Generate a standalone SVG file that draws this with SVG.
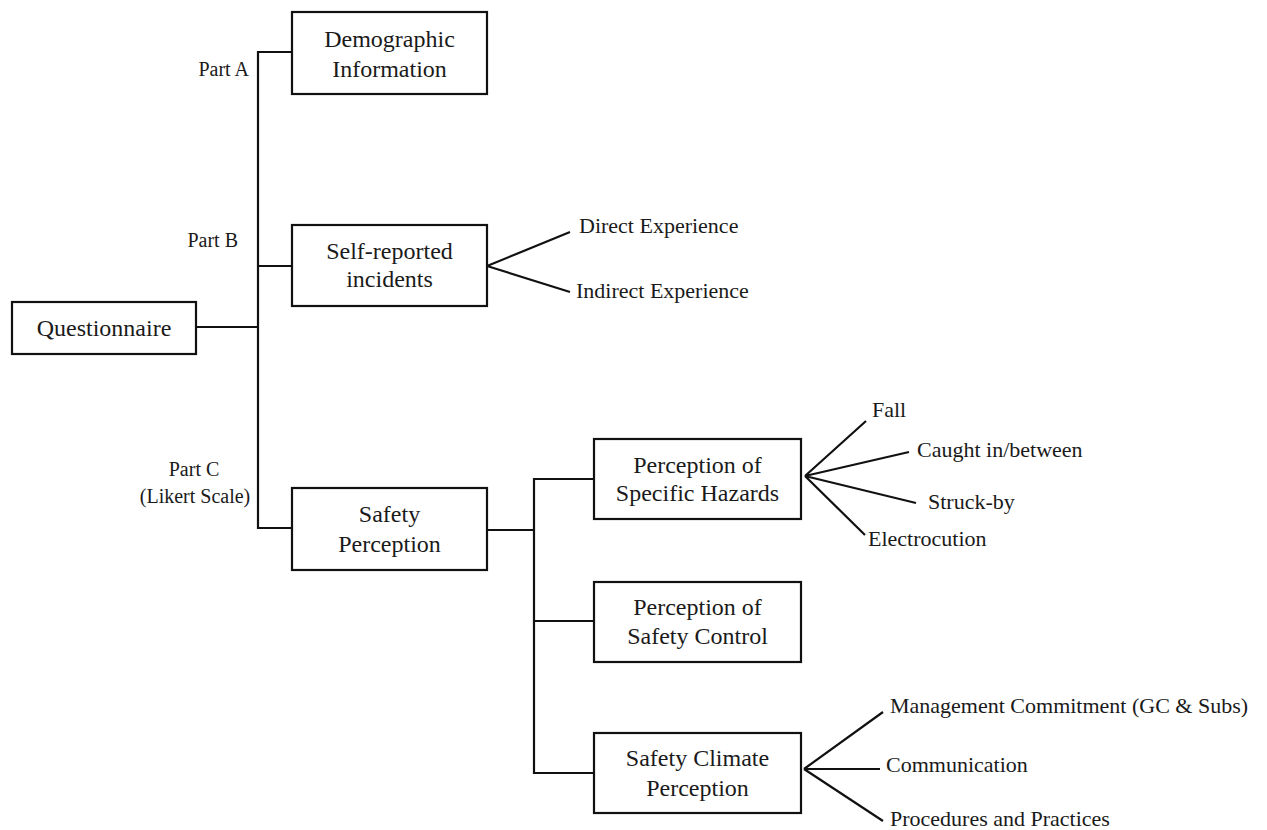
<svg xmlns="http://www.w3.org/2000/svg" width="1267" height="830" viewBox="0 0 1267 830">
<style>
.box{fill:#fff;stroke:#111;stroke-width:2.2}
.ln{fill:none;stroke:#111;stroke-width:2.2}
text{font-family:"Liberation Serif","Times New Roman",serif;fill:#1a1a1a}
.bt{font-size:24px;text-anchor:middle}
.lf{font-size:22px}
.pt{font-size:20px}
</style>
<rect width="1267" height="830" fill="#fff"/>
<g id="connectors">
<path class="ln" d="M292 52 H258 V528 H292"/>
<path class="ln" d="M258 266 H292"/>
<path class="ln" d="M196 327 H258"/>
<path class="ln" d="M487 266 L570 232 M487 266 L570 292"/>
<path class="ln" d="M487 530 H534"/>
<path class="ln" d="M594 479 H534 V773 H594"/>
<path class="ln" d="M534 621 H594"/>
<path class="ln" d="M805 476 L866 421 M805 476 L909 452 M805 476 L916 503 M805 476 L865 535"/>
<path class="ln" d="M804 769 L883 712 M804 769 L880 769 M804 769 L883 821"/>
</g>
<g id="part-labels">
<text class="pt" x="249" y="76" text-anchor="end">Part A</text>
<text class="pt" x="238" y="247" text-anchor="end">Part B</text>
<text class="pt" x="194" y="476" text-anchor="middle">Part C</text>
<text class="pt" x="195" y="503" text-anchor="middle">(Likert Scale)</text>
</g>
<g id="questionnaire">
<rect class="box" x="12" y="302" width="184" height="52"/>
<text class="bt" x="104" y="336">Questionnaire</text>
</g>
<g id="demographic">
<rect class="box" x="292" y="12" width="195" height="82"/>
<text class="bt" x="389.5" y="47">Demographic</text>
<text class="bt" x="389.5" y="77">Information</text>
</g>
<g id="self-reported">
<rect class="box" x="292" y="225" width="195" height="81"/>
<text class="bt" x="389.5" y="259">Self-reported</text>
<text class="bt" x="389.5" y="287">incidents</text>
</g>
<g id="safety-perception">
<rect class="box" x="292" y="488" width="195" height="82"/>
<text class="bt" x="389.5" y="522">Safety</text>
<text class="bt" x="389.5" y="552">Perception</text>
</g>
<g id="specific-hazards">
<rect class="box" x="594" y="439" width="207" height="80"/>
<text class="bt" x="697.5" y="473">Perception of</text>
<text class="bt" x="697.5" y="501">Specific Hazards</text>
</g>
<g id="safety-control">
<rect class="box" x="594" y="582" width="207" height="80"/>
<text class="bt" x="697.5" y="615">Perception of</text>
<text class="bt" x="697.5" y="644">Safety Control</text>
</g>
<g id="safety-climate">
<rect class="box" x="594" y="733" width="207" height="80"/>
<text class="bt" x="697.5" y="766">Safety Climate</text>
<text class="bt" x="697.5" y="796">Perception</text>
</g>
<g id="direct"><text class="lf" x="579" y="233">Direct Experience</text></g>
<g id="indirect"><text class="lf" x="576" y="298">Indirect Experience</text></g>
<g id="fall"><text class="lf" x="872" y="417">Fall</text></g>
<g id="caught"><text class="lf" x="917" y="457">Caught in/between</text></g>
<g id="struck"><text class="lf" x="928" y="509">Struck-by</text></g>
<g id="electrocution"><text class="lf" x="868" y="546">Electrocution</text></g>
<g id="management"><text class="lf" x="890" y="713">Management Commitment (GC &amp; Subs)</text></g>
<g id="communication"><text class="lf" x="886" y="772">Communication</text></g>
<g id="procedures"><text class="lf" x="890" y="826">Procedures and Practices</text></g>
</svg>
